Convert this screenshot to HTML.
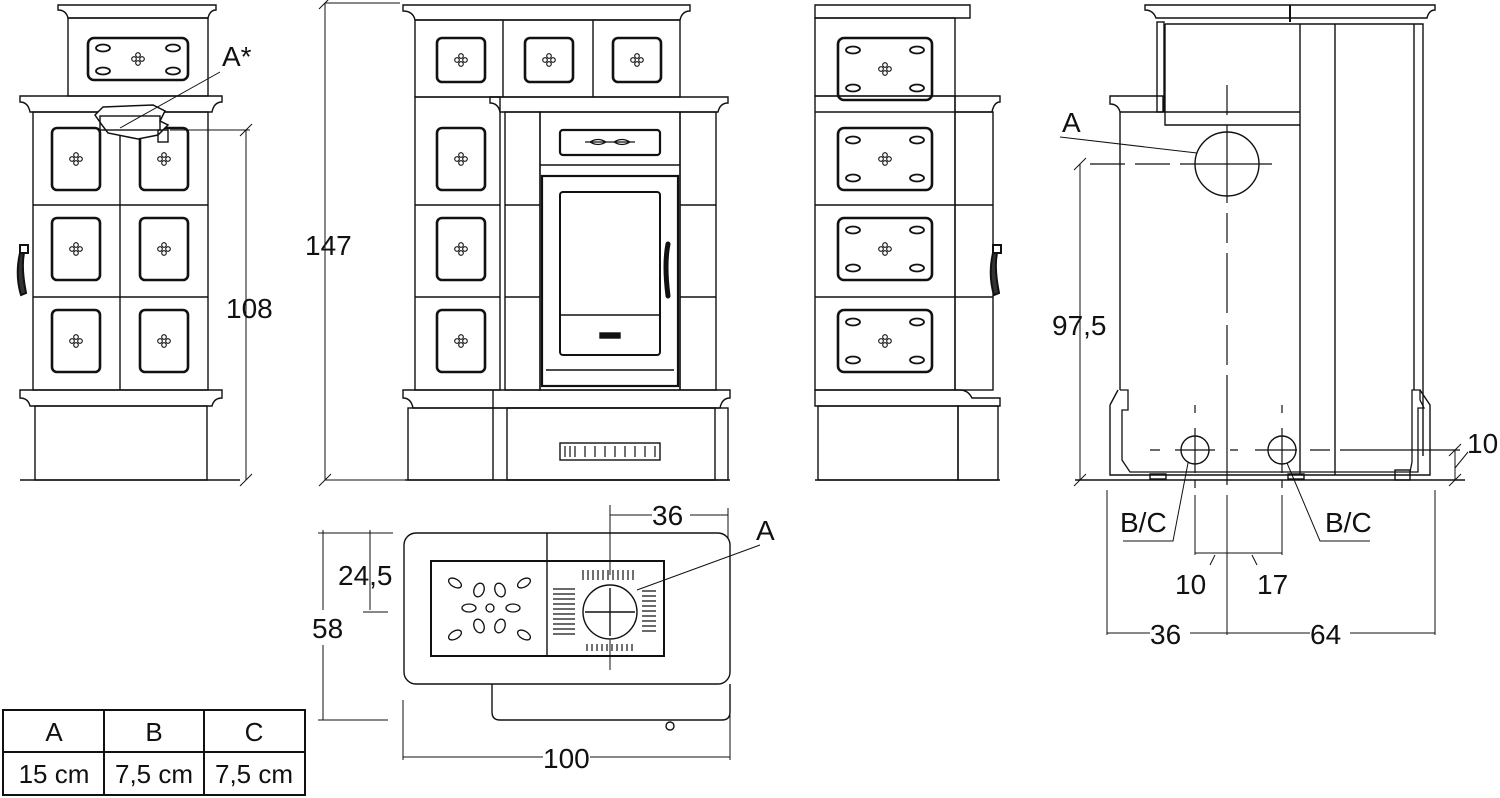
<!DOCTYPE html>
<html><head><meta charset="utf-8"><style>
html,body{margin:0;padding:0;background:#fff;width:1500px;height:798px;overflow:hidden}
svg{display:block}
text{font-family:"Liberation Sans",sans-serif;fill:#111}
</style></head><body>
<svg width="1500" height="798" viewBox="0 0 1500 798" xmlns="http://www.w3.org/2000/svg" fill="none" stroke="#111" stroke-width="1.4">
<defs>
<g id="clover" stroke-width="1.1"><circle cx="0" cy="-4" r="2.3"/><circle cx="0" cy="4" r="2.3"/><circle cx="-4" cy="0" r="2.3"/><circle cx="4" cy="0" r="2.3"/></g>
<g id="tile"><rect x="0" y="0" width="48" height="62" rx="5" stroke-width="2.6"/><use href="#clover" x="24" y="31"/></g>
<g id="tileS"><rect x="0" y="0" width="48" height="44" rx="5" stroke-width="2.6"/><use href="#clover" x="24" y="22"/></g>
<g id="tileW"><rect x="0" y="0" width="94" height="62" rx="6" stroke-width="2.6"/><use href="#clover" x="47" y="31"/>
<ellipse cx="15" cy="12" rx="7" ry="3.5" stroke-width="1.8"/><ellipse cx="79" cy="12" rx="7" ry="3.5" stroke-width="1.8"/><ellipse cx="15" cy="50" rx="7" ry="3.5" stroke-width="1.8"/><ellipse cx="79" cy="50" rx="7" ry="3.5" stroke-width="1.8"/></g>
<g id="handle" stroke-width="2"><path d="M0 0 h8 v8 h-8z"/><path d="M4 8 q-3 15 2 40 l-5 2 q-6 -20 -1 -42z" fill="#333"/></g>
</defs>

<!-- LEFT SIDE VIEW -->
<path d="M58 5 h158 v5 q-6 0 -8 8 H68 q-2 -8 -10 -8z"/>
<rect x="68" y="18" width="140" height="78"/>
<rect x="88" y="38" width="100" height="42" rx="6" stroke-width="2.6"/>
<use href="#clover" x="138" y="59"/>
<ellipse cx="103" cy="48" rx="7" ry="3.5" stroke-width="1.8"/><ellipse cx="173" cy="48" rx="7" ry="3.5" stroke-width="1.8"/><ellipse cx="103" cy="71" rx="7" ry="3.5" stroke-width="1.8"/><ellipse cx="173" cy="71" rx="7" ry="3.5" stroke-width="1.8"/>
<path d="M20 96 h202 v6 q-8 0 -10 10 H30 q-2 -10 -10 -10z"/>
<rect x="33" y="112" width="175" height="278"/>
<line x1="33" y1="205" x2="208" y2="205"/><line x1="33" y1="297" x2="208" y2="297"/>
<line x1="120" y1="112" x2="120" y2="390"/>
<use href="#tile" x="52" y="128"/><use href="#tile" x="140" y="128"/>
<use href="#tile" x="52" y="218"/><use href="#tile" x="140" y="218"/>
<use href="#tile" x="52" y="310"/><use href="#tile" x="140" y="310"/>
<path d="M20 390 h202 v8 q-8 0 -10 8 H30 q-2 -8 -10 -8z"/>
<rect x="35" y="406" width="172" height="74"/>
<line x1="20" y1="480" x2="240" y2="480"/>
<use href="#handle" x="20" y="245"/>
<path d="M95 115 l8 -8 l50 -2 l12 6 l-5 10 l8 4 l-10 10 l-20 4 l-30 -6 l-6 -8z" fill="#fff" stroke-width="1.5"/>
<rect x="100" y="116" width="60" height="14"/>
<rect x="158" y="130" width="10" height="12"/>
<line x1="120" y1="128" x2="220" y2="72" stroke-width="1"/>
<text x="222" y="66" font-size="28" stroke="none" fill="#111">A*</text>
<line x1="170" y1="130" x2="250" y2="130" stroke-width="1"/>
<line x1="246" y1="130" x2="246" y2="480" stroke-width="1"/>
<line x1="240" y1="136" x2="252" y2="124" stroke-width="1"/><line x1="240" y1="486" x2="252" y2="474" stroke-width="1"/>
<text x="226" y="318" font-size="28" stroke="none">108</text>
<line x1="325" y1="3" x2="325" y2="480" stroke-width="1"/>
<line x1="319" y1="9" x2="331" y2="-3" stroke-width="1"/><line x1="319" y1="486" x2="331" y2="474" stroke-width="1"/>
<line x1="325" y1="3" x2="400" y2="3" stroke-width="1"/><line x1="325" y1="480" x2="405" y2="480" stroke-width="1"/>
<text x="305" y="255" font-size="28" stroke="none">147</text>

<!-- FRONT VIEW -->
<path d="M403 5 h287 v6 q-8 0 -10 9 H415 q-2 -9 -12 -9z"/>
<rect x="415" y="20" width="265" height="77"/>
<line x1="503" y1="20" x2="503" y2="97"/><line x1="593" y1="20" x2="593" y2="97"/>
<use href="#tileS" x="437" y="38"/><use href="#tileS" x="525" y="38"/><use href="#tileS" x="613" y="38"/>
<path d="M490 97 h238 v6 q-8 0 -10 9 H500 q-2 -9 -10 -9z"/>
<rect x="415" y="97" width="85" height="293"/>
<line x1="415" y1="205" x2="500" y2="205"/><line x1="415" y1="297" x2="500" y2="297"/>
<use href="#tile" x="437" y="128"/><use href="#tile" x="437" y="218"/><use href="#tile" x="437" y="310"/>
<rect x="505" y="112" width="35" height="278"/><line x1="505" y1="205" x2="540" y2="205"/><line x1="505" y1="297" x2="540" y2="297"/>
<rect x="540" y="112" width="140" height="278"/>
<rect x="560" y="130" width="100" height="25" rx="3" stroke-width="2.2"/>
<path d="M585 142 h50 M590 142 q8 -5 16 0 q-8 5 -16 0 M614 142 q8 -5 16 0 q-8 5 -16 0" stroke-width="1.2"/>
<line x1="540" y1="165" x2="680" y2="165"/>
<rect x="542" y="176" width="136" height="210" stroke-width="2.2"/>
<rect x="560" y="192" width="100" height="163" rx="3" stroke-width="2"/>
<line x1="560" y1="315" x2="660" y2="315"/>
<rect x="600" y="333" width="20" height="5" fill="#111"/>
<line x1="546" y1="370" x2="674" y2="370"/>
<path d="M668 244 q-4 20 0 52" stroke-width="5" stroke-linecap="round"/>
<rect x="680" y="112" width="36" height="278"/><line x1="680" y1="205" x2="716" y2="205"/><line x1="680" y1="297" x2="716" y2="297"/>
<path d="M403 390 h327 v8 q-8 0 -10 10 H413 q-2 -10 -10 -10z"/>
<rect x="408" y="408" width="320" height="72"/>
<line x1="493" y1="390" x2="493" y2="480"/>
<rect x="507" y="408" width="208" height="72"/>
<rect x="560" y="443" width="100" height="17"/>
<path d="M565 446 v11 M570 446 v11 M575 446 v11 M585 446 v11 M595 446 v11 M605 446 v11 M615 446 v11 M625 446 v11 M635 446 v11 M645 446 v11 M655 446 v11" stroke-width="1.2"/>
<line x1="405" y1="480" x2="730" y2="480"/>

<!-- RIGHT SIDE VIEW -->
<path d="M815 5 h155 v13 H815z"/>
<rect x="815" y="18" width="140" height="78"/>
<path d="M955 96 h45 v6 q-6 0 -8 10 H955z"/>
<rect x="815" y="96" width="140" height="294"/>
<line x1="815" y1="112" x2="955" y2="112"/>
<line x1="815" y1="205" x2="955" y2="205"/><line x1="815" y1="297" x2="955" y2="297"/>
<use href="#tileW" x="838" y="38"/><use href="#tileW" x="838" y="128"/><use href="#tileW" x="838" y="218"/><use href="#tileW" x="838" y="310"/>
<rect x="955" y="112" width="38" height="278"/><line x1="955" y1="205" x2="993" y2="205"/><line x1="955" y1="297" x2="993" y2="297"/>
<use href="#handle" x="993" y="245"/>
<path d="M815 390 h145 q8 0 12 8 h28 v8 H815z"/>
<rect x="818" y="406" width="140" height="74"/><rect x="958" y="406" width="40" height="74"/>
<line x1="815" y1="480" x2="1000" y2="480"/>

<!-- REAR VIEW -->
<path d="M1145 5 h290 v5 q-6 0 -8 8 H1156 q-3 -8 -11 -8z"/>
<line x1="1290" y1="5" x2="1290" y2="22" stroke-width="2"/>
<rect x="1157" y="22" width="7" height="90"/>
<path d="M1165 24 h258 v432"/>
<path d="M1165 24 V125 H1300"/>
<line x1="1165" y1="112" x2="1300" y2="112"/>
<line x1="1300" y1="24" x2="1300" y2="475"/><line x1="1335" y1="24" x2="1335" y2="475"/>
<line x1="1414" y1="24" x2="1414" y2="390"/>
<path d="M1110 96 h53 v16 H1120 q-2 -8 -10 -8z"/>
<line x1="1120" y1="112" x2="1120" y2="390"/>
<circle cx="1227" cy="164" r="32"/>
<path d="M1227 85 v30 M1227 125 v78 M1227 213 v30 M1227 253 v60 M1227 325 v40 M1227 375 v110" stroke-width="1.2"/>
<path d="M1090 164 h35 M1135 164 h35 M1180 164 h92" stroke-width="1.2"/>
<line x1="1060" y1="137" x2="1197" y2="153" stroke-width="1"/>
<text x="1062" y="132" font-size="28" stroke="none">A</text>
<path d="M1120 390 h8 v20 l-6 0 v50 l8 12 H1410 l2 -10 V390 h8 v10 l4 8 h-6 v64 h-10" stroke-width="1.3"/>
<path d="M1110 405 l8 -15 M1110 405 v70 H1430 V405 l-10 -15"/>
<circle cx="1195" cy="450" r="14"/><circle cx="1282" cy="450" r="14"/>
<path d="M1150 450 h10 M1175 450 h40 M1230 450 h8 M1255 450 h42 M1310 450 h20 M1340 450 h120" stroke-width="1.2"/>
<path d="M1195 405 v8 M1195 428 v45 M1195 480 v8 M1282 405 v8 M1282 428 v45 M1282 480 v8" stroke-width="1.2"/>
<rect x="1395" y="470" width="15" height="10"/><rect x="1150" y="474" width="16" height="5"/><rect x="1288" y="474" width="16" height="5"/>
<line x1="1075" y1="480" x2="1465" y2="480"/>
<line x1="1080" y1="164" x2="1080" y2="480" stroke-width="1"/>
<line x1="1074" y1="170" x2="1086" y2="158" stroke-width="1"/><line x1="1074" y1="486" x2="1086" y2="474" stroke-width="1"/>
<text x="1052" y="335" font-size="28" stroke="none">97,5</text>
<line x1="1455" y1="450" x2="1455" y2="480" stroke-width="1"/>
<line x1="1449" y1="456" x2="1461" y2="444" stroke-width="1"/><line x1="1449" y1="486" x2="1461" y2="474" stroke-width="1"/>
<line x1="1455" y1="468" x2="1468" y2="452" stroke-width="1"/>
<text x="1467" y="453" font-size="28" stroke="none">10</text>
<path d="M1188 463 l-15 78 h-50" stroke-width="1"/><path d="M1287 463 l33 78 h50" stroke-width="1"/>
<text x="1120" y="532" font-size="28" stroke="none">B/C</text><text x="1325" y="532" font-size="28" stroke="none">B/C</text>
<path d="M1195 495 v60 M1227 495 v140 M1282 495 v60 M1107 490 v145 M1435 490 v145" stroke-width="1"/>
<line x1="1195" y1="553" x2="1282" y2="553" stroke-width="1"/>
<path d="M1210 565 l5 -10 M1257 565 l-5 -10" stroke-width="1"/>
<text x="1175" y="594" font-size="28" stroke="none">10</text><text x="1257" y="594" font-size="28" stroke="none">17</text>
<line x1="1107" y1="633" x2="1150" y2="633" stroke-width="1"/><line x1="1190" y1="633" x2="1310" y2="633" stroke-width="1"/><line x1="1350" y1="633" x2="1435" y2="633" stroke-width="1"/>
<text x="1150" y="644" font-size="28" stroke="none">36</text><text x="1310" y="644" font-size="28" stroke="none">64</text>

<!-- TOP VIEW -->
<rect x="404" y="533" width="326" height="151" rx="12"/>
<path d="M492 684 v28 q0 8 8 8 h222 q8 0 8 -8 V684"/>
<circle cx="670" cy="726" r="4"/>
<line x1="547" y1="533" x2="547" y2="561"/>
<rect x="431" y="561" width="233" height="95" stroke-width="2"/>
<line x1="547" y1="561" x2="547" y2="656"/>
<g stroke-width="1.3">
<ellipse cx="455" cy="583" rx="7" ry="4" transform="rotate(30 455 583)"/><ellipse cx="524" cy="583" rx="7" ry="4" transform="rotate(-30 524 583)"/>
<ellipse cx="455" cy="635" rx="7" ry="4" transform="rotate(-30 455 635)"/><ellipse cx="524" cy="635" rx="7" ry="4" transform="rotate(30 524 635)"/>
<ellipse cx="479" cy="590" rx="5" ry="7" transform="rotate(20 479 590)"/><ellipse cx="500" cy="590" rx="5" ry="7" transform="rotate(-20 500 590)"/>
<ellipse cx="479" cy="626" rx="5" ry="7" transform="rotate(-20 479 626)"/><ellipse cx="500" cy="626" rx="5" ry="7" transform="rotate(20 500 626)"/>
<ellipse cx="469" cy="608" rx="7" ry="4"/><ellipse cx="513" cy="608" rx="7" ry="4"/><circle cx="490" cy="608" r="4"/>
</g>
<circle cx="610" cy="612" r="27"/>
<path d="M585 612 h50 M610 588 v48" />
<path d="M610 505 v70 M610 640 v30" stroke-width="1"/>
<g stroke-width="1.2">
<path d="M583 570 v10 M588 570 v10 M593 570 v10 M598 570 v10 M603 570 v10 M608 570 v10 M613 570 v10 M618 570 v10 M623 570 v10 M628 570 v10 M633 570 v10"/>
<path d="M587 644 v7 M592 644 v7 M597 644 v7 M602 644 v7 M607 644 v7 M612 644 v7 M617 644 v7 M622 644 v7 M627 644 v7 M632 644 v7"/>
<path d="M553 589 h22 M553 594 h22 M553 599 h22 M553 604 h22 M553 609 h22 M553 614 h22 M553 619 h22 M553 624 h22 M553 629 h22 M553 634 h22"/>
<path d="M642 591 h14 M642 596 h14 M642 601 h14 M642 606 h14 M642 611 h14 M642 616 h14 M642 621 h14 M642 626 h14 M642 631 h14"/>
</g>
<line x1="637" y1="590" x2="760" y2="545" stroke-width="1"/>
<text x="756" y="540" font-size="28" stroke="none">A</text>
<path d="M610 515 h42 M690 515 h38 M728 508 v30" stroke-width="1"/>
<text x="652" y="525" font-size="28" stroke="none">36</text>
<path d="M318 533 h70 M323 530 v80 M323 645 v75 M318 720 h70 M363 533 h30 M370 530 v80 M363 612 h25" stroke-width="1"/>
<text x="312" y="638" font-size="28" stroke="none">58</text>
<text x="338" y="585" font-size="28" stroke="none">24,5</text>
<path d="M403 700 v60 M730 700 v60 M403 757 h140 M590 757 h140" stroke-width="1"/>
<text x="543" y="768" font-size="28" stroke="none">100</text>

<!-- TABLE -->
<rect x="3" y="710" width="302" height="85" stroke-width="2"/>
<line x1="3" y1="752" x2="305" y2="752" stroke-width="2"/>
<line x1="104" y1="710" x2="104" y2="795" stroke-width="2"/><line x1="204" y1="710" x2="204" y2="795" stroke-width="2"/>
<g font-size="26" stroke="none" text-anchor="middle">
<text x="54" y="741">A</text><text x="154" y="741">B</text><text x="254" y="741">C</text>
<text x="54" y="783">15 cm</text><text x="154" y="783">7,5 cm</text><text x="254" y="783">7,5 cm</text>
</g>
</svg>
</body></html>
